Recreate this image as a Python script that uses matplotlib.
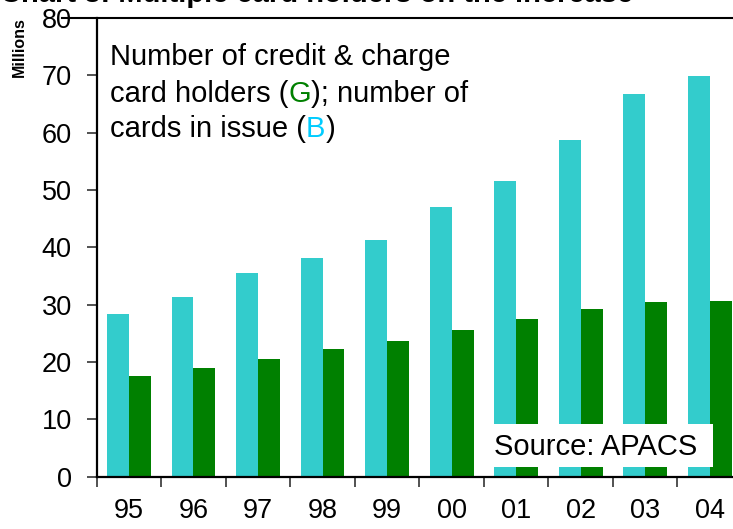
import numpy as np
import matplotlib
matplotlib.use("Agg")
import matplotlib.pyplot as plt
from matplotlib.patches import Rectangle

plt.rcParams['font.family'] = ['Liberation Sans', 'DejaVu Sans']

years = ['95', '96', '97', '98', '99', '00', '01', '02', '03', '04']
cards_in_issue = [28.4, 31.4, 35.5, 38.1, 41.3, 47.0, 51.6, 58.8, 66.8, 69.9]
card_holders = [17.6, 19.0, 20.5, 22.3, 23.7, 25.6, 27.5, 29.2, 30.5, 30.7]
yticks = [0, 10, 20, 30, 40, 50, 60, 70, 80]

W, H = 733, 529
fig = plt.figure(figsize=(W / 100, H / 100), dpi=100)
ax = fig.add_axes([96.7 / W, (H - 476.7) / H, (742 - 96.7) / W, (476.7 - 18) / H])

x = np.arange(len(years))
bw = 0.34
ax.bar(x - bw / 2, cards_in_issue, width=bw, color='#33CCCC', zorder=2)
ax.bar(x + bw / 2, card_holders, width=bw, color='#008000', zorder=2)

ax.set_xlim(-0.5, len(years) - 0.5)
ax.set_ylim(0, 80)
ax.set_yticks(yticks)
ax.set_yticklabels([str(v) for v in yticks], fontsize=19.5)
ax.set_xticks(x)
ax.set_xticklabels(years, fontsize=19.5)
ax.set_xticks(np.arange(-0.5, len(years), 1.0), minor=True)
ax.tick_params(axis='x', which='major', length=0, pad=15.5)
ax.tick_params(axis='x', which='minor', length=7, width=1.2, color='#333333', direction='out')
ax.tick_params(axis='y', which='major', length=7, width=1.2, color='#333333', direction='out', pad=11)

for s in ['top', 'right']:
    ax.spines[s].set_visible(False)
for s in ['left', 'bottom']:
    ax.spines[s].set_linewidth(1.6)
    ax.spines[s].set_color('black')
    ax.spines[s].set_zorder(3)

# line at the top (80)
ax.plot([-0.054, 1.0], [1, 1], transform=ax.transAxes, color='black', lw=1.5, clip_on=False)

# Source box
ax.add_patch(Rectangle((493 / W, (H - 466.7) / H), (713 - 493) / W, (466.7 - 424) / H,
                       transform=fig.transFigure, facecolor='white', edgecolor='none', zorder=4))
fig.text(494 / W, (H - 455) / H, 'Source: APACS', fontsize=21, va='baseline', ha='left', zorder=5)

# Millions label
fig.text(19 / W, (H - 47) / H, 'Millions', rotation=90, fontsize=11.5, fontweight='bold',
         ha='center', va='center')

# Title (cropped at top of image)
fig.text(0.0, (H - 1.5) / H, 'Chart 3: Multiple card holders on the increase', fontsize=21,
         fontweight='bold', ha='left', va='baseline')

# Annotation text with coloured letters
fig.canvas.draw()
r = fig.canvas.get_renderer()
lines = [
    (65, [('Number of credit & charge', 'black')]),
    (101.7, [('card holders (', 'black'), ('G', '#008000'), ('); number of', 'black')]),
    (137.3, [('cards in issue (', 'black'), ('B', '#00CCFF'), (')', 'black')]),
]
for base, segs in lines:
    px = 110
    for s, c in segs:
        t = fig.text(px / W, (H - base) / H, s, color=c, fontsize=21, va='baseline', ha='left')
        px += t.get_window_extent(r).width

fig.savefig('out.png', dpi=100)
